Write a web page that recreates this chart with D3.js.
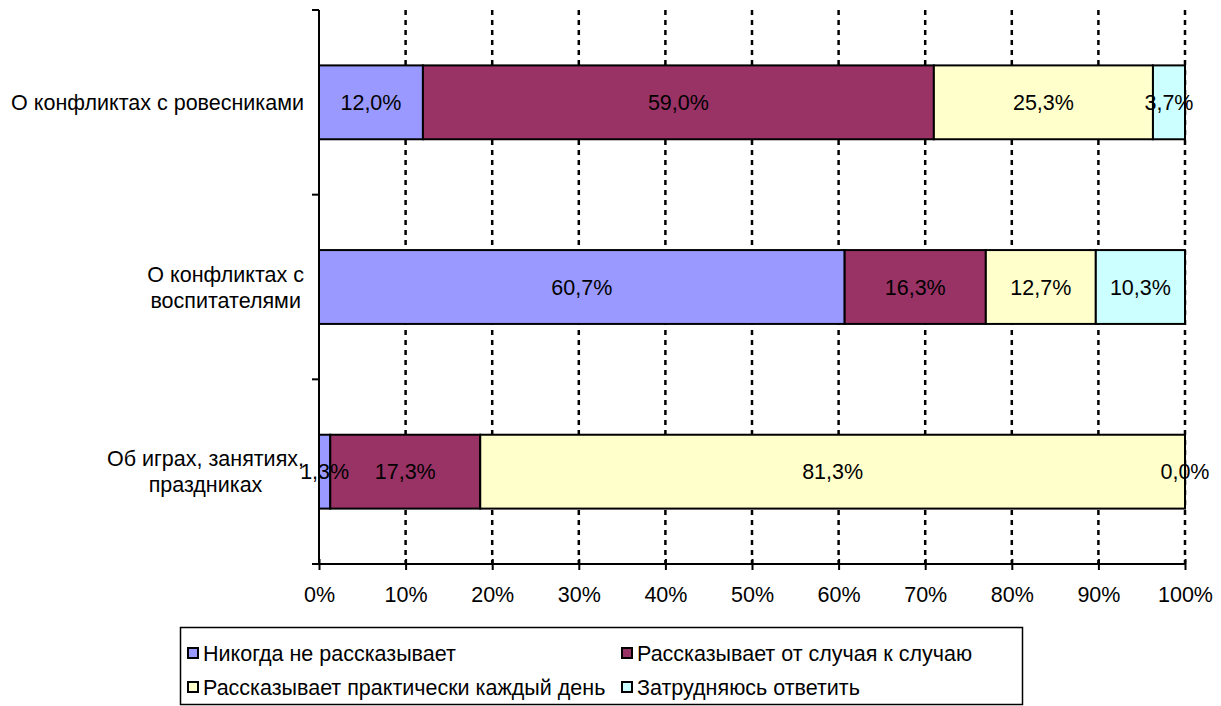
<!DOCTYPE html>
<html>
<head>
<meta charset="utf-8">
<script src="https://cdn.jsdelivr.net/npm/d3@7"></script>
<style>
  body { margin: 0; background: #fff; }
  svg text { font-family: "Liberation Sans", Arial, sans-serif; }
</style>
</head>
<body>
<svg id="chart" width="1221" height="706"></svg>
<script>
let categories = [
  ["О конфликтах с ровесниками"],
  ["О конфликтах с", "воспитателями"],
  ["Об играх, занятиях,", "праздниках"]
];
let seriesNames = [
  "Никогда не рассказывает",
  "Рассказывает от случая к случаю",
  "Рассказывает практически каждый день",
  "Затрудняюсь ответить"
];
let colors = ["#9999FF", "#993366", "#FFFFCC", "#CCFFFF"];
let never = [12.0, 60.7, 1.3];
let sometimes = [59.0, 16.3, 17.3];
let daily = [25.3, 12.7, 81.3];
let unsure = [3.7, 10.3, 0.0];
let xTicks = [0, 0.1, 0.2, 0.3, 0.4, 0.5, 0.6, 0.7, 0.8, 0.9, 1];

let series = [never, sometimes, daily, unsure];

let fontSize = '21.5px';
let svg = d3.select('#chart');

let plotL = 319, plotR = 1185, plotT = 10, plotB = 564;

let x = d3.scaleLinear().domain([0, 1]).range([plotL, plotR]);
let y = d3.scaleBand()
  .domain(d3.range(categories.length))
  .range([plotT, plotB])
  .paddingInner(0.6)
  .paddingOuter(0.3);

// rows of segments, normalised like a 100% stacked bar
let rows = categories.map((c, i) => {
  let vals = series.map(s => s[i]);
  let total = d3.sum(vals);
  let acc = 0;
  return vals.map((v, k) => {
    let seg = { row: i, k: k, v: v, x0: acc / total, x1: (acc + v) / total };
    acc += v;
    return seg;
  });
});

// gridlines
svg.append('g')
  .selectAll('line.grid')
  .data(xTicks.slice(1))
  .enter()
  .append('line')
  .attr('class', 'grid')
  .attr('x1', d => x(d))
  .attr('x2', d => x(d))
  .attr('y1', plotT)
  .attr('y2', plotB)
  .style('stroke', '#000')
  .style('stroke-width', '2.5px')
  .style('stroke-dasharray', '5,5');

// bars
svg.append('g')
  .selectAll('rect.seg')
  .data(rows.flat())
  .enter()
  .append('rect')
  .attr('class', 'seg')
  .attr('x', d => x(d.x0))
  .attr('y', d => y(d.row))
  .attr('width', d => x(d.x1) - x(d.x0))
  .attr('height', y.bandwidth())
  .style('fill', d => colors[d.k])
  .style('stroke', '#000')
  .style('stroke-width', '2px');

svg.append('g')
  .selectAll('text.val')
  .data(rows.flat())
  .enter()
  .append('text')
  .attr('class', 'val')
  .attr('x', d => (x(d.x0) + x(d.x1)) / 2)
  .attr('y', d => y(d.row) + y.bandwidth() / 2)
  .attr('dy', '0.35em')
  .attr('text-anchor', 'middle')
  .style('font-size', fontSize)
  .text(d => d.v.toFixed(1).replace('.', ',') + '%');

// y axis
svg.append('line')
  .attr('x1', plotL).attr('x2', plotL)
  .attr('y1', plotT).attr('y2', plotB)
  .style('stroke', '#000').style('stroke-width', '2px');

let step = (plotB - plotT) / categories.length;
svg.append('g')
  .selectAll('line.ytick')
  .data(d3.range(categories.length + 1))
  .enter()
  .append('line')
  .attr('x1', plotL - 7).attr('x2', plotL)
  .attr('y1', d => plotT + d * step).attr('y2', d => plotT + d * step)
  .style('stroke', '#000').style('stroke-width', '2px');

// category labels: multi-line blocks, lines centred, block right-aligned
svg.append('g')
  .selectAll('text.cat')
  .data(categories)
  .enter()
  .append('text')
  .attr('class', 'cat')
  .attr('text-anchor', 'middle')
  .style('font-size', fontSize)
  .each(function(lines, i) {
    let cy = y(i) + y.bandwidth() / 2;
    let lh = 26;
    let y0 = cy - (lines.length - 1) * lh / 2;
    let t = d3.select(this);
    let spans = t.selectAll('tspan')
      .data(lines)
      .enter()
      .append('tspan')
      .attr('y', (d, j) => y0 + j * lh)
      .attr('dy', '0.35em')
      .text(d => d);
    let maxW = d3.max(spans.nodes(), n => n.getComputedTextLength());
    spans.attr('x', 304 - maxW / 2);
  });

// x axis
let xAxis = d3.axisBottom(x)
  .tickValues(xTicks)
  .tickFormat(d3.format('.0%'))
  .tickSize(5)
  .tickPadding(18);

let gx = svg.append('g')
  .attr('transform', `translate(0,${plotB})`)
  .call(xAxis);
gx.select('.domain').style('stroke', '#000').style('stroke-width', '2px')
  .attr('d', `M${plotL},0H${plotR}`);
gx.selectAll('.tick line').attr('y1', -5).attr('y2', 6)
  .style('stroke', '#000').style('stroke-width', '2px');
gx.selectAll('.tick text')
  .style('font-size', fontSize)
  .style('font-family', '"Liberation Sans", Arial, sans-serif')
  .style('fill', '#000');

// legend
let legend = svg.append('g');
legend.append('rect')
  .attr('x', 180.5).attr('y', 627.5)
  .attr('width', 842).attr('height', 77)
  .style('fill', '#fff').style('stroke', '#000').style('stroke-width', '1.5px');

let legPos = [[188, 653], [622, 653], [188, 687], [622, 687]];
let items = legend.selectAll('g.item')
  .data(seriesNames)
  .enter()
  .append('g')
  .attr('class', 'item')
  .attr('transform', (d, i) => `translate(${legPos[i][0]},${legPos[i][1]})`);

items.append('rect')
  .attr('x', 0).attr('y', -5)
  .attr('width', 10).attr('height', 10)
  .style('fill', (d, i) => colors[i])
  .style('stroke', '#000').style('stroke-width', '2px');

items.append('text')
  .attr('x', 15)
  .attr('dy', '0.35em')
  .style('font-size', fontSize)
  .text(d => d);
</script>
</body>
</html>
